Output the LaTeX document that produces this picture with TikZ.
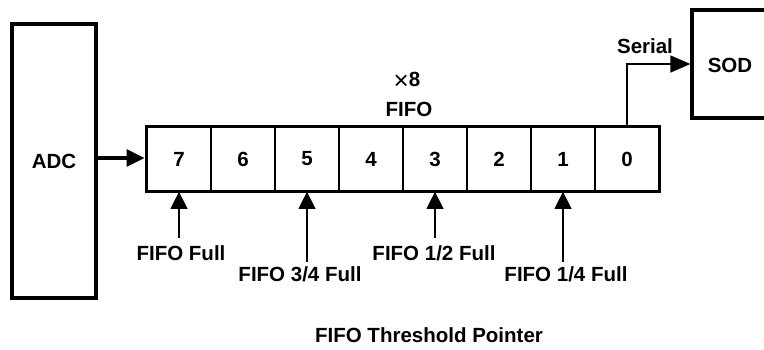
\documentclass[tikz,border=0pt]{standalone}
\usepackage{fontspec}
\setmainfont{Liberation Sans}
\usetikzlibrary{arrows.meta,fit}
\begin{document}
\begin{tikzpicture}[x=1pt,y=-1pt,
  lbl/.style={font=\fontsize{20.5}{22}\selectfont\bfseries, inner sep=0pt},
  thickbox/.style={draw, line width=3.2pt},
  cellbox/.style={draw, line width=1.7pt, minimum width=64pt, minimum height=64pt, inner sep=0pt, font=\fontsize{20.5}{22}\selectfont\bfseries},
  bigarrow/.style={line width=3.2pt, -{Triangle[length=18pt,width=17pt]}},
  ptr/.style={line width=1.3pt, -{Triangle[length=17pt,width=17pt]}}
]
\useasboundingbox (0,0) rectangle (764,350);
\clip (0,0) rectangle (764,350);
% ADC
\node[thickbox, minimum width=84pt, minimum height=274pt, inner sep=0pt, lbl] (adc) at (54,161) {ADC};
% FIFO cells
\foreach \i/\n in {0/7,1/6,2/5,3/4,4/3,5/2,6/1,7/0}{
  \node[cellbox] (c\n) at ({179+64*\i},159) {\n};
}
\node[draw, line width=3.2pt, inner sep=0pt, fit=(c7)(c0)] (fifo) {};
% SOD
\node[thickbox, minimum width=76pt, minimum height=108pt, inner sep=0pt] (sod) at (730,64) {};
\node[lbl] (sodt) at (730,65) {SOD};
% labels
\node[lbl] (x8) at (407,81) {\raisebox{-2.5pt}{\mdseries\fontsize{26}{26}\selectfont ×}8};
\node[lbl] (fifot) at (409,109) {FIFO};
\node[lbl] (ser) at (645,46) {Serial};
% ADC -> FIFO
\draw[bigarrow] (adc.east |- 0,158) -- (fifo.west |- 0,158);
% Serial out
\coordinate (sbend) at (c0.north |- sod.west);
\draw[line width=1.5pt, -{Triangle[length=20pt,width=17pt]}] (c0.north) -- (sbend) -- (sod.west);
% pointers
\coordinate (p7) at (179,238);
\coordinate (p5) at (307,262);
\coordinate (p3) at (435,238);
\coordinate (p1) at (563,262);
\draw[ptr] (p7) -- (c7.south);
\draw[ptr] (p5) -- (c5.south);
\draw[ptr] (p3) -- (c3.south);
\draw[ptr] (p1) -- (c1.south);
\node[lbl] (tfull) at (181,253) {FIFO Full};
\node[lbl] (t34) at (300,274) {FIFO 3/4 Full};
\node[lbl] (t12) at (434,253) {FIFO 1/2 Full};
\node[lbl] (t14) at (566,274) {FIFO 1/4 Full};
\node[lbl] (tp) at (429,335) {FIFO Threshold Pointer};
\end{tikzpicture}
\end{document}
